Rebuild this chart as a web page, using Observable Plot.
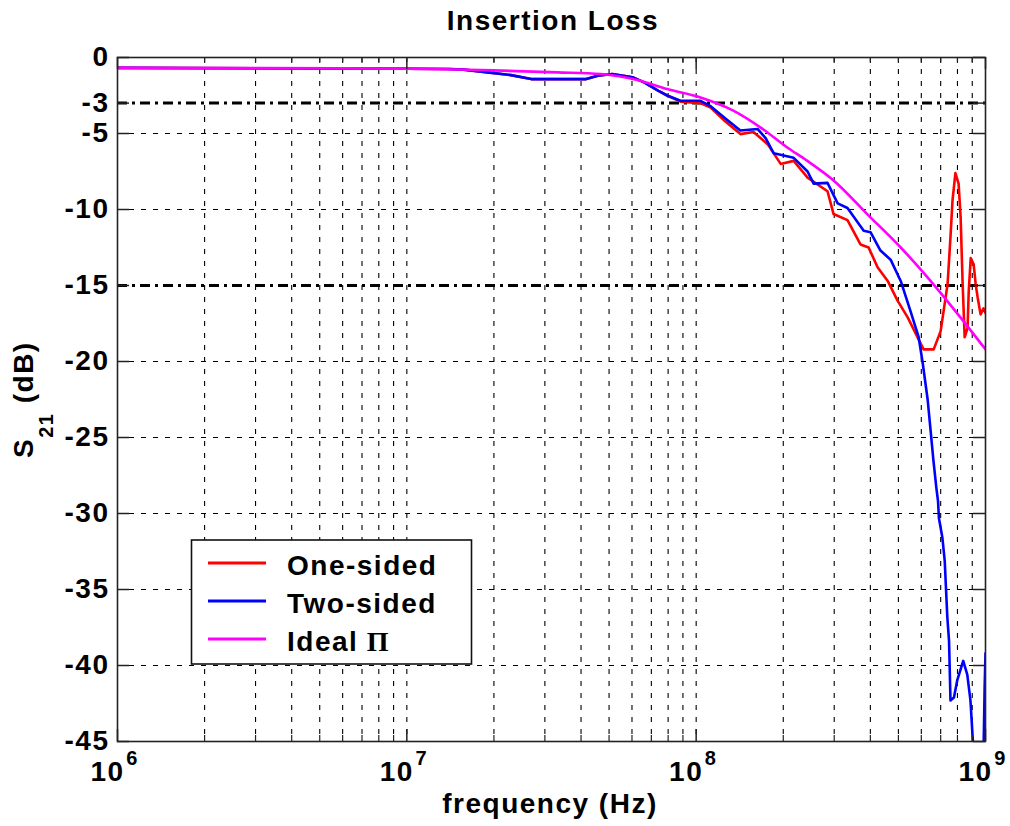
<!DOCTYPE html>
<html>
<head>
<meta charset="utf-8">
<script src="https://cdn.jsdelivr.net/npm/d3@7"></script>
<script src="https://cdn.jsdelivr.net/npm/@observablehq/plot@0.6"></script>
<style>
  html, body { margin: 0; padding: 0; background: #fff; }
  #wrap { position: relative; width: 1010px; height: 826px; overflow: hidden; }
  #wrap svg text { letter-spacing: 1.5px; }
  #overlay { position: absolute; left: 0; top: 0; pointer-events: none; }
  #overlay text { font-family: "Liberation Sans", Arial, sans-serif; font-weight: bold; font-size: 28px; fill: #000; }
</style>
</head>
<body>
<div id="wrap"></div>
<script>
// ---------- data ----------
const yTicks = [0, -3, -5, -10, -15, -20, -25, -30, -35, -40, -45];
const yGridLevels = [-5, -10, -20, -25, -30, -35, -40];
const refLevels = [-3, -15];
const xMajor = [1e6, 1e7, 1e8, 1e9];
const xMinor = [2e6, 3e6, 4e6, 5e6, 6e6, 7e6, 8e6, 9e6,
                2e7, 3e7, 4e7, 5e7, 6e7, 7e7, 8e7, 9e7,
                2e8, 3e8, 4e8, 5e8, 6e8, 7e8, 8e8, 9e8];
const xGridLines = [2e6, 3e6, 4e6, 5e6, 6e6, 7e6, 8e6, 9e6, 1e7,
                    2e7, 3e7, 4e7, 5e7, 6e7, 7e7, 8e7, 9e7, 1e8,
                    2e8, 3e8, 4e8, 5e8, 6e8, 7e8, 8e8, 9e8];
const xTickExponents = ["6", "7", "8", "9"];

// One-sided (red)
const fOne = [1e6, 1e7, 1.4e7, 1.57e7, 1.905e7, 2.29e7, 2.69e7, 4.17e7, 4.57e7, 5.13e7, 6.03e7, 6.61e7, 7.41e7, 7.94e7, 8.83e7,
  1.035e8, 1.122e8, 1.259e8, 1.422e8, 1.578e8, 1.766e8, 1.959e8, 2.173e8, 2.427e8, 2.844e8, 2.985e8, 3.334e8, 3.698e8,
  3.945e8, 4.236e8, 4.592e8, 4.966e8, 5.383e8, 5.821e8, 6.109e8, 6.622e8, 6.998e8, 7.396e8, 7.568e8, 7.691e8, 7.870e8,
  8.072e8, 8.204e8, 8.337e8, 8.472e8, 8.670e8, 8.750e8, 8.892e8, 9.099e8, 9.247e8, 9.397e8, 9.616e8, 9.840e8, 1e9];
const dbOne = [-0.68, -0.74, -0.76, -0.8, -0.98, -1.16, -1.42, -1.42, -1.2, -1.09, -1.3, -1.64, -2.2, -2.5, -2.9,
  -3.0, -3.3, -4.2, -5.04, -4.9, -5.7, -7.0, -6.8, -7.9, -8.8, -10.3, -10.7, -12.3,
  -12.5, -13.8, -14.7, -16.0, -17.1, -18.4, -19.2, -19.2, -18.0, -14.9, -11.8, -9.4, -7.6,
  -8.3, -10.5, -14.9, -18.4, -17.8, -15.4, -13.2, -13.6, -14.9, -15.8, -16.9, -16.5, -16.8];

// Two-sided (blue)
const fTwo = [1e6, 1e7, 1.4e7, 1.57e7, 1.905e7, 2.29e7, 2.69e7, 4.17e7, 4.57e7, 5.13e7, 6.03e7, 6.61e7, 7.41e7, 7.94e7, 8.83e7,
  1.035e8, 1.122e8, 1.259e8, 1.422e8, 1.629e8, 1.738e8, 1.854e8, 2.173e8, 2.427e8, 2.547e8, 2.844e8, 3.083e8, 3.334e8,
  3.793e8, 4.009e8, 4.335e8, 4.699e8, 5.093e8, 5.508e8, 5.875e8, 6.067e8, 6.310e8, 6.457e8, 6.607e8, 6.761e8, 6.855e8,
  6.902e8, 7.096e8, 7.228e8, 7.379e8, 7.482e8, 7.568e8, 7.780e8, 7.980e8, 8.375e8, 8.650e8, 8.872e8, 9.078e8, 9.3e8,
  9.75e8, 9.84e8, 9.93e8, 1e9];
const dbTwo = [-0.68, -0.74, -0.76, -0.8, -0.98, -1.16, -1.42, -1.42, -1.2, -1.09, -1.3, -1.64, -2.2, -2.5, -2.85,
  -2.85, -3.2, -4.0, -4.8, -4.7, -5.3, -6.3, -6.6, -7.5, -8.3, -8.25, -9.6, -9.9,
  -11.4, -11.5, -12.7, -13.3, -14.7, -16.7, -18.4, -20.1, -22.5, -24.5, -26.5, -28.3, -29.2,
  -30.3, -31.6, -33.1, -36.8, -38.4, -42.3, -42.1, -41.0, -39.7, -40.6, -42.3, -45.5, -48,
  -48, -46, -41.5, -39.2];

// Ideal Π (magenta)
const fIdeal = [1e6, 3e6, 1e7, 2e7, 3.31e7, 4.68e7, 6.31e7, 7.94e7, 1.035e8, 1.349e8, 1.671e8, 2.065e8, 2.421e8,
  2.992e8, 3.899e8, 5.093e8, 6.457e8, 8.204e8, 9.886e8, 1e9];
const dbIdeal = [-0.68, -0.7, -0.74, -0.85, -0.98, -1.09, -1.5, -2.08, -2.63, -3.51, -4.61, -5.92, -6.8,
  -8.11, -10.3, -12.5, -14.69, -17.11, -19.08, -19.2];

const seriesNames = ["One-sided", "Two-sided", "Ideal"];
const seriesColors = ["#ff0000", "#0000ff", "#ff00ff"];

const toRows = (f, db) => f.map((v, i) => ({f: v, db: db[i]}));
const one = toRows(fOne, dbOne);
const two = toRows(fTwo, dbTwo);
const ideal = toRows(fIdeal, dbIdeal);

const W = 1010, H = 826, mL = 117, mR = 25, mT = 57, mB = 85;
const innerW = W - mL - mR, innerH = H - mT - mB;
const majorLen = 12, minorLen = 6;

const chart = Plot.plot({
  width: W, height: H,
  marginLeft: mL, marginRight: mR, marginTop: mT, marginBottom: mB,
  style: {fontFamily: "'Liberation Sans', Arial, sans-serif", fontWeight: "bold", fontSize: "28px", background: "#fff", color: "#000", overflow: "visible"},
  x: {type: "log", domain: [1e6, 1e9], axis: null},
  y: {domain: [-45, 0], axis: null},
  marks: [
    // grid
    Plot.ruleX(xGridLines, {stroke: "#000", strokeWidth: 1.1, strokeDasharray: "5,7"}),
    Plot.ruleY(yGridLevels, {stroke: "#000", strokeWidth: 1.1, strokeDasharray: "5,7"}),
    // -3 dB and -15 dB reference lines
    Plot.ruleY(refLevels, {stroke: "#000", strokeWidth: 3, strokeDasharray: "10,5,3,5"}),
    // curves
    Plot.line(one, {x: "f", y: "db", stroke: seriesColors[0], strokeWidth: 2.6, clip: true}),
    Plot.line(two, {x: "f", y: "db", stroke: seriesColors[1], strokeWidth: 2.6, clip: true}),
    Plot.line(ideal, {x: "f", y: "db", stroke: seriesColors[2], strokeWidth: 2.6, curve: "monotone-x", clip: true}),
    // frame and inward ticks
    Plot.frame({stroke: "#222", strokeWidth: 1.6}),
    Plot.ruleX(xMajor, {stroke: "#222", strokeWidth: 1.5, insetTop: innerH - majorLen}),
    Plot.ruleX(xMajor, {stroke: "#222", strokeWidth: 1.5, insetBottom: innerH - majorLen}),
    Plot.ruleX(xMinor, {stroke: "#222", strokeWidth: 1.2, insetTop: innerH - minorLen}),
    Plot.ruleX(xMinor, {stroke: "#222", strokeWidth: 1.2, insetBottom: innerH - minorLen}),
    Plot.ruleY(yTicks, {stroke: "#222", strokeWidth: 1.5, insetRight: innerW - majorLen}),
    Plot.ruleY(yTicks, {stroke: "#222", strokeWidth: 1.5, insetLeft: innerW - majorLen}),
    // y tick labels
    Plot.axisY(yTicks, {anchor: "left", tickSize: 0, tickPadding: 8, label: null,
      tickFormat: d => String(d), fontSize: 28, fontWeight: "bold"}),
    // x tick labels: 10 with superscript exponent
    Plot.text(xMajor, {x: d => d, frameAnchor: "bottom", text: () => "10", dy: 39, dx: -10,
      fontSize: 28, fontWeight: "bold", fill: "#000"}),
    Plot.text(xMajor, {x: d => d, frameAnchor: "bottom", text: (d, i) => xTickExponents[i], dy: 23, dx: 15,
      fontSize: 20, fontWeight: "bold", fill: "#000"})
  ]
});

const wrap = document.getElementById("wrap");
wrap.appendChild(chart);

// overlay: title, axis labels, legend
const ns = "http://www.w3.org/2000/svg";
const ov = document.createElementNS(ns, "svg");
ov.setAttribute("id", "overlay");
ov.setAttribute("width", W);
ov.setAttribute("height", H);
ov.innerHTML = `
  <text x="553" y="30" text-anchor="middle">Insertion Loss</text>
  <text x="550" y="813" text-anchor="middle">frequency (Hz)</text>
  <text transform="translate(33,458) rotate(-90)" text-anchor="start">S<tspan font-size="20" dy="20">21</tspan><tspan dy="-20"> (dB)</tspan></text>
  <rect x="191.5" y="540" width="280" height="124" fill="#fff" stroke="#111" stroke-width="1.6"></rect>
`;
const legendY = [563, 601, 639];
seriesNames.forEach((name, i) => {
  const ln = document.createElementNS(ns, "line");
  ln.setAttribute("x1", 208); ln.setAttribute("x2", 266);
  ln.setAttribute("y1", legendY[i]); ln.setAttribute("y2", legendY[i]);
  ln.setAttribute("stroke", seriesColors[i]); ln.setAttribute("stroke-width", 3);
  ov.appendChild(ln);
  const t = document.createElementNS(ns, "text");
  t.setAttribute("x", 287); t.setAttribute("y", legendY[i] + 12);
  t.textContent = name;
  if (name === "Ideal") {
    const pi = document.createElementNS(ns, "tspan");
    pi.setAttribute("font-family", "'Liberation Serif', 'Times New Roman', serif");
    pi.textContent = " Π";
    t.appendChild(pi);
  }
  ov.appendChild(t);
});
wrap.appendChild(ov);
</script>
</body>
</html>
